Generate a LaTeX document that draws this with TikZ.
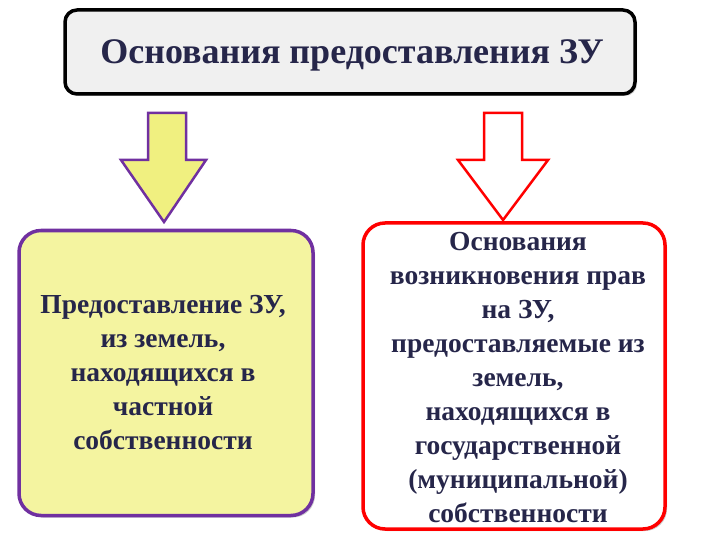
\documentclass[tikz,border=0pt]{standalone}
\usepackage{fontspec}
\setmainfont{Liberation Serif}
\usetikzlibrary{shadows}
\definecolor{purp}{HTML}{7030A0}
\definecolor{yel}{HTML}{F4F4A0}
\definecolor{arry}{HTML}{F0F080}
\definecolor{txt}{HTML}{26264A}
\begin{document}
\begin{tikzpicture}[x=1pt,y=-1pt,
  box/.style={rounded corners=22pt,line width=3.5pt,drop shadow={shadow xshift=2pt,shadow yshift=-2pt,opacity=0.4}},
  lbl/.style={align=center,font=\bfseries\fontsize{27.5}{34}\selectfont,text=txt}]
\useasboundingbox (0,0) rectangle (720,540);
\node[box,draw=black,fill=gray!12,rounded corners=12pt,minimum width=570pt,minimum height=84pt] (top) at (350,52) {};
\node[font=\bfseries\fontsize{36}{40}\selectfont,text=txt] (toptext) at (352,55) {Основания предоставления ЗУ};
\draw[purp,line width=2.5pt,fill=arry,line join=miter] (148,113) -- (186,113) -- (186,160) -- (206,160) -- (164,222) -- (121,160) -- (148,160) -- cycle;
\draw[red,line width=2.5pt,fill=white,line join=miter] (484,113) -- (522,113) -- (522,160) -- (548,160) -- (503,220) -- (458,160) -- (484,160) -- cycle;
\node[box,draw=purp,fill=yel,minimum width=294pt,minimum height=285pt] (left) at (166,373) {};
\node[lbl] (lt) at (163,373) {Предоставление ЗУ,\\из земель,\\находящихся в\\частной\\собственности};
\node[box,draw=red,fill=white,minimum width=302pt,minimum height=306pt] (right) at (514,376) {};
\node[lbl] (rt) at (518,378) {Основания\\возникновения прав\\на ЗУ,\\предоставляемые из\\земель,\\находящихся в\\государственной\\(муниципальной)\\собственности};
\end{tikzpicture}
\end{document}
